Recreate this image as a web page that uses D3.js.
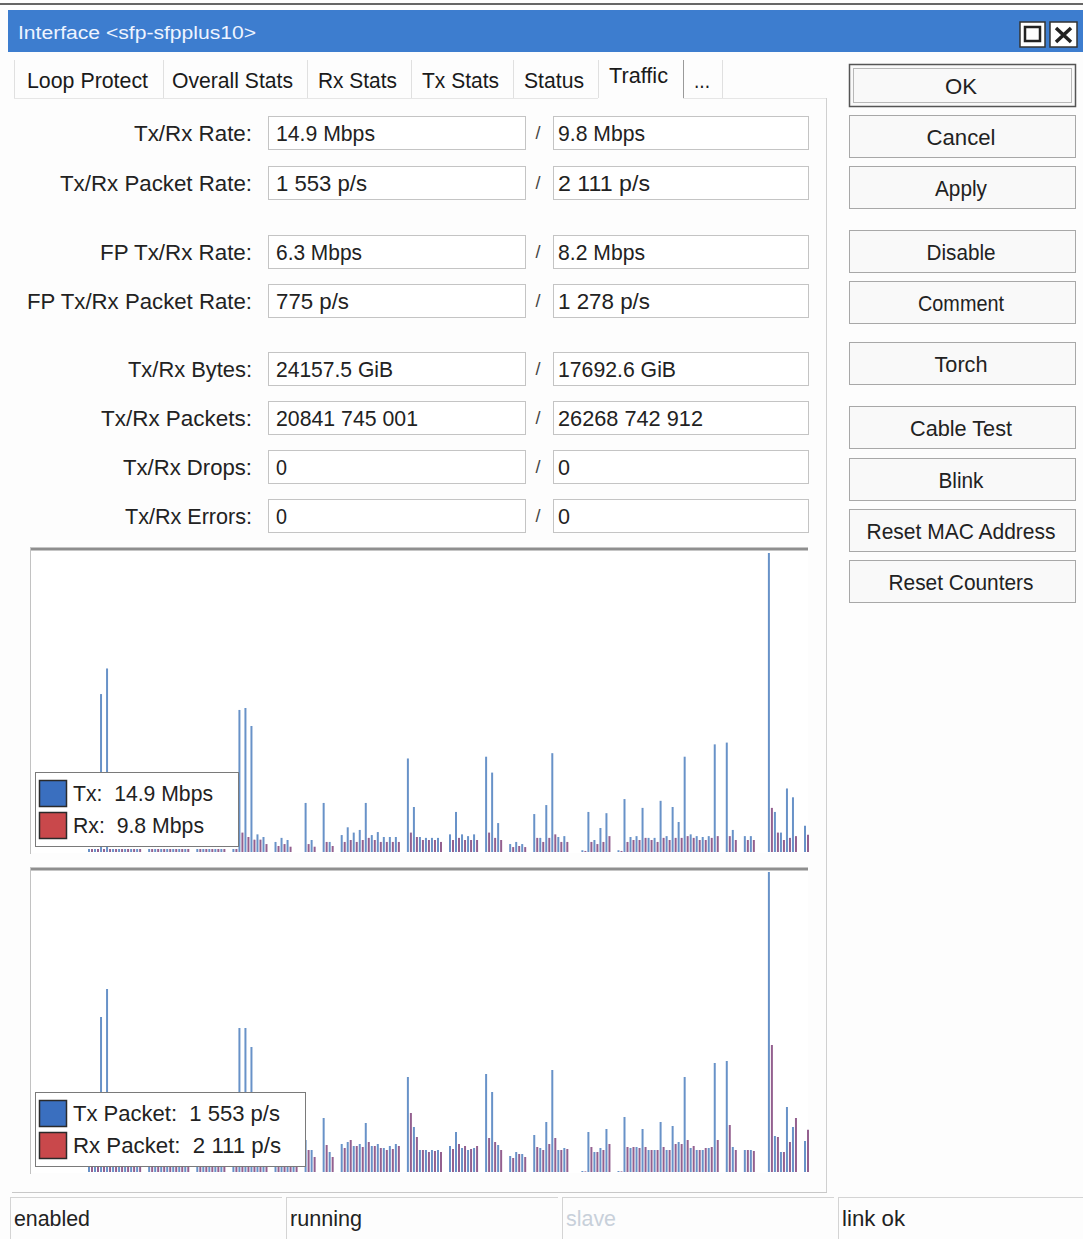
<!DOCTYPE html>
<html><head><meta charset="utf-8">
<script src="https://cdn.jsdelivr.net/npm/d3@7/dist/d3.min.js"></script>
<style>body{margin:0;background:#fff}svg{display:block}text{white-space:pre}</style>
</head><body>
<svg id="c" width="1083" height="1239"></svg>
<script>
// ---- data ----
const txRate = [1.7,1.7,89.5,104,1.7,1.7,1.7,1.7,1.7,0,
 1.7,1.7,1.7,1.7,1.7,1.7,1.7,0,1.7,1.7,
 1.7,1.7,1.7,0,1.7,80.5,81.6,71.4,10,8.5,
 0,5.7,8,6.8,0,0,27.8,6.8,0,27.8,
 5.7,0,9.6,14,11,12.5,27.8,9.6,11.3,8.5,
 8.5,8.5,0,53,25.5,8.5,8,8,8,0,
 10,22.7,10,9,10,0,54,45,16.4,0,
 4.5,5.7,4.5,0,21.5,8,26.6,56,8.5,9,
 0,0,1,22.7,6.8,13.6,22,0,1,30,
 8.5,9,25,8,8,29,9,25.5,17,54,
 10,9,8.5,9,61,0,62,12.5,0,9,
 9,0,0,169.5,22.7,11,36,31,0,14.9];
const rxRate = [1.7,1.7,1.7,1.7,1.7,1.7,1.7,1.7,1.7,0,
 1.7,1.7,1.7,1.7,1.7,1.7,1.7,0,1.7,1.7,
 1.7,1.7,1.7,0,1.7,11,8.5,7,7,4.5,
 0,3.4,4.5,3,0,0,4.5,3,0,5.7,
 3.4,0,5.7,6.8,5.7,6.8,8,6.8,5.7,5.7,
 5.7,5.7,0,11,8.5,6.8,6.8,6.8,5.7,0,
 6.8,8,6.8,6.8,6.8,0,11,8,6.8,0,
 2.8,3.4,2.8,0,8,5.7,8,10,5.7,5.7,
 0,0,0.6,5.7,4.5,5.7,9,0,0.6,5.7,
 6.8,6.8,8,6.8,5.7,8,6.8,8,8,9,
 8,6.8,6.8,8,9,0,9,6.8,0,6.8,
 6.8,0,0,25,11,6.8,8,9,0,9.8];
const txPkt = [250,250,7750,9150,250,250,250,250,250,0,
 250,250,250,250,250,250,250,0,250,250,
 250,250,250,0,250,7200,7200,6250,300,250,
 0,250,250,250,250,0,1600,1100,0,2700,
 1000,0,1400,1500,1300,1400,2450,1300,1400,1200,
 1300,1400,0,4750,2250,1100,1100,1100,1100,0,
 1300,2000,1200,1100,1200,0,4900,4000,1350,0,
 800,1000,900,0,1850,1200,2500,5100,1100,1200,
 0,0,50,2000,1000,1200,2150,0,50,2750,
 1200,1250,2150,1100,1100,2500,1100,2300,1500,4750,
 1200,1100,1100,1200,5450,0,5550,1250,0,1100,
 1100,0,0,15000,1800,1000,3250,2250,0,1553];
const rxPkt = [250,250,250,250,250,250,250,250,250,0,
 250,250,250,250,250,250,250,0,250,250,
 250,250,250,0,250,1100,1000,900,250,250,
 0,250,250,250,250,0,1100,750,0,1350,
 750,0,1200,1600,1300,1250,1500,1300,1200,1100,
 1150,1300,0,2950,1750,1100,1000,1050,1000,0,
 1150,1400,1300,1150,1300,0,1700,1500,1100,0,
 700,900,750,0,1250,1100,1400,1700,1100,1150,
 0,0,30,1250,1000,1100,1400,0,30,1250,
 1250,1200,1250,1100,1100,1250,1100,1400,1400,1600,
 1300,1100,1200,1250,1600,0,2350,1100,0,1100,
 1050,0,0,6350,1750,1000,1500,2700,0,2111];

const tabs = ["Loop Protect","Overall Stats","Rx Stats","Tx Stats","Status","Traffic","..."];
const fieldLabels = ["Tx/Rx Rate:","Tx/Rx Packet Rate:","FP Tx/Rx Rate:","FP Tx/Rx Packet Rate:","Tx/Rx Bytes:","Tx/Rx Packets:","Tx/Rx Drops:","Tx/Rx Errors:"];
const txValues = ["14.9 Mbps","1 553 p/s","6.3 Mbps","775 p/s","24157.5 GiB","20841 745 001","0","0"];
const rxValues = ["9.8 Mbps","2 111 p/s","8.2 Mbps","1 278 p/s","17692.6 GiB","26268 742 912","0","0"];
const buttons = ["OK","Cancel","Apply","Disable","Comment","Torch","Cable Test","Blink","Reset MAC Address","Reset Counters"];
const statusItems = ["enabled","running","slave","link ok"];
const legendRate = ["Tx:  14.9 Mbps","Rx:  9.8 Mbps"];
const legendPkt = ["Tx Packet:  1 553 p/s","Rx Packet:  2 111 p/s"];

// ---- layout ----
const svg = d3.select("#c");
const FONT = "'Liberation Sans', Arial, sans-serif";
function T(g, s, x, y, o = {}) {
  const t = g.append("text").attr("x", x).attr("y", y).text(s)
    .attr("font-family", FONT).attr("font-size", o.size || 22)
    .attr("fill", o.fill || "#222").attr("text-anchor", o.anchor || "start")
    .attr("dominant-baseline", "central").attr("xml:space", "preserve");
  if (o.w) t.attr("textLength", o.w).attr("lengthAdjust", "spacingAndGlyphs");
  return t;
}
svg.append("rect").attr("width", 1083).attr("height", 1239).attr("fill", "#fdfdfd");
svg.append("line").attr("x1", 0).attr("x2", 1083).attr("y1", 4).attr("y2", 4).attr("stroke", "#666").attr("stroke-width", 2);

// title bar
svg.append("rect").attr("x", 8).attr("y", 10).attr("width", 1075).attr("height", 42).attr("fill", "#3d7dcf");
T(svg, "Interface <sfp-sfpplus10>", 18, 33, { size: 18, fill: "#eef4ff", w: 238 });
svg.append("rect").attr("x", 1020).attr("y", 22).attr("width", 25).attr("height", 25).attr("fill", "#fff").attr("stroke", "#333").attr("stroke-width", 1.5);
svg.append("rect").attr("x", 1025).attr("y", 27).attr("width", 15).attr("height", 14).attr("fill", "none").attr("stroke", "#222").attr("stroke-width", 2.5);
svg.append("rect").attr("x", 1050).attr("y", 22).attr("width", 27).attr("height", 25).attr("fill", "#fff").attr("stroke", "#333").attr("stroke-width", 1.5);
svg.append("path").attr("d", "M1056,28L1071,42M1071,28L1056,42").attr("stroke", "#222").attr("stroke-width", 3.5);

// tabs
const tabX = [27, 172, 318, 422, 524, 609, 694];
const tabW = [121, 121, 79, 77, 60, 59, 16];
const tabSep = [14, 163, 307, 411, 513, 598, 683, 722];
const tg = svg.append("g");
tg.selectAll("line.sep").data(tabSep).join("line").attr("x1", d => d + 0.5).attr("x2", d => d + 0.5)
  .attr("y1", 60).attr("y2", 98).attr("stroke", (d, i) => (i === 6 ? "#9a9a9a" : "#e0e0e0"));
tabs.forEach((s, i) => T(tg, s, tabX[i], i === 5 ? 75 : 80, { w: tabW[i], fill: "#1a1a1a" }));
svg.append("line").attr("x1", 14).attr("x2", 598).attr("y1", 98.5).attr("y2", 98.5).attr("stroke", "#e6e6e6");
svg.append("line").attr("x1", 683).attr("x2", 826).attr("y1", 98.5).attr("y2", 98.5).attr("stroke", "#e6e6e6");
// panel border
svg.append("line").attr("x1", 826.5).attr("x2", 826.5).attr("y1", 98).attr("y2", 1192).attr("stroke", "#d0d0d0");
svg.append("line").attr("x1", 12).attr("x2", 827).attr("y1", 1192.5).attr("y2", 1192.5).attr("stroke", "#c8c8c8");

// fields
const rowY = [133, 183, 252, 301, 369, 418, 467, 516];
const labW = [118, 192, 152, 225, 124, 151, 129, 127];
const txW = [99, 91, 86, 73, 117, 142, 11, 11];
const rxW = [87, 92, 87, 92, 118, 145, 12, 12];
const fg = svg.append("g");
rowY.forEach((y, i) => {
  T(fg, fieldLabels[i], 252, y, { anchor: "end", w: labW[i] });
  fg.append("rect").attr("x", 268.5).attr("y", y - 16.5).attr("width", 257).attr("height", 33).attr("fill", "#fff").attr("stroke", "#c4c4c4");
  fg.append("rect").attr("x", 553.5).attr("y", y - 16.5).attr("width", 255).attr("height", 33).attr("fill", "#fff").attr("stroke", "#c4c4c4");
  T(fg, "/", 538, y, { anchor: "middle", size: 18, fill: "#444" });
  T(fg, txValues[i], 276, y, { w: txW[i] });
  T(fg, rxValues[i], 558, y, { w: rxW[i] });
});

// buttons
const btnY = [64, 115, 166, 230, 281, 342, 406, 458, 509, 560];
const btnW = [32, 69, 52, 69, 86, 53, 102, 45, 189, 145];
const bg = svg.append("g");
buttons.forEach((s, i) => {
  bg.append("rect").attr("x", 849.5).attr("y", btnY[i] + 0.5).attr("width", 226).attr("height", 42)
    .attr("fill", "#f9f9f9").attr("stroke", i === 0 ? "#555" : "#a8a8a8").attr("stroke-width", i === 0 ? 1.5 : 1);
  if (i === 0) bg.append("rect").attr("x", 853.5).attr("y", btnY[i] + 4.5).attr("width", 218).attr("height", 34)
    .attr("fill", "none").attr("stroke", "#777").attr("stroke-dasharray", "1,1");
  T(bg, s, 961, btnY[i] + 22, { anchor: "middle", w: btnW[i] });
});

// charts
const x = d3.scaleLinear().domain([0, txRate.length - 1]).range([89, 805]);
function chart(tx, rx, yMax, top, bottom, legendLabels, legendW, legendTextW) {
  const y = d3.scaleLinear().domain([0, yMax]).range([bottom, top]);
  const g = svg.append("g");
  g.append("rect").attr("x", 30).attr("y", top - 4).attr("width", 778).attr("height", bottom - top + 5).attr("fill", "#fff");
  g.append("line").attr("x1", 30).attr("x2", 808).attr("y1", top - 3).attr("y2", top - 3).attr("stroke", "#8e8e8e").attr("stroke-width", 3);
  g.append("line").attr("x1", 30.5).attr("x2", 30.5).attr("y1", top - 4).attr("y2", bottom + 2).attr("stroke", "#c2c2c2");
  const idx = d3.range(tx.length);
  g.selectAll("line.txb").data(idx.filter(i => tx[i] > 0)).join("line").attr("class", "txb")
    .attr("x1", i => x(i)).attr("x2", i => x(i)).attr("y1", bottom).attr("y2", i => y(tx[i]))
    .attr("stroke", "#6892c8").attr("stroke-width", 2);
  g.selectAll("line.rxb").data(idx.filter(i => rx[i] > 0)).join("line").attr("class", "rxb")
    .attr("x1", i => x(i) + 3).attr("x2", i => x(i) + 3).attr("y1", bottom).attr("y2", i => y(rx[i]))
    .attr("stroke", "#94608f").attr("stroke-width", 2);
  // legend
  const ly = bottom - 80;
  g.append("rect").attr("x", 35.5).attr("y", ly + 0.5).attr("width", legendW).attr("height", 74)
    .attr("fill", "#fff").attr("stroke", "#7a7a7a");
  [["#3a6fbf", legendLabels[0]], ["#c9484b", legendLabels[1]]].forEach(([c, s], k) => {
    g.append("rect").attr("x", 39.5).attr("y", ly + 8.5 + k * 32).attr("width", 27).attr("height", 26)
      .attr("fill", c).attr("stroke", "#2a2a2a").attr("stroke-width", 1.5);
    T(g, s, 73, ly + 21 + k * 32, { w: legendTextW[k] });
  });
}
chart(txRate, rxRate, 170, 552, 852, legendRate, 203, [140, 131]);
chart(txPkt, rxPkt, 15000, 872, 1172, legendPkt, 270, [207, 208]);

// status bar
const stX = [10, 286, 562, 838];
const stW = [76, 72, 50, 63];
const sg = svg.append("g");
statusItems.forEach((s, i) => {
  sg.append("line").attr("x1", stX[i]).attr("x2", i === 3 ? 1083 : stX[i + 1] - 4).attr("y1", 1197.5).attr("y2", 1197.5).attr("stroke", "#d4d4d4");
  sg.append("line").attr("x1", stX[i] + 0.5).attr("x2", stX[i] + 0.5).attr("y1", 1197).attr("y2", 1239).attr("stroke", "#d4d4d4");
  T(sg, s, stX[i] + 4, 1218, { w: stW[i], fill: i === 2 ? "#c8d0da" : "#222" });
});
</script>
</body></html>
